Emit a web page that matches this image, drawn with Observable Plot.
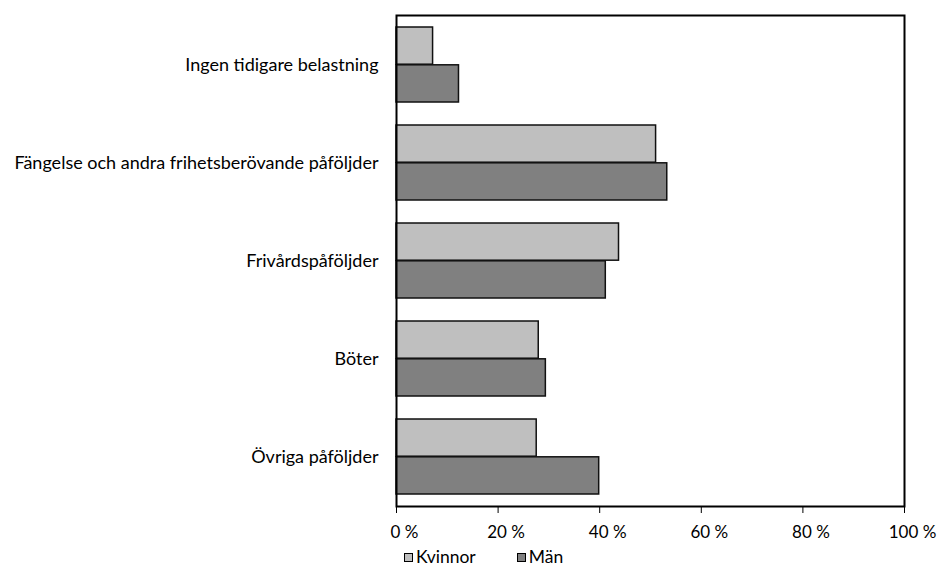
<!DOCTYPE html>
<html>
<head>
<meta charset="utf-8">
<script src="https://cdn.jsdelivr.net/npm/d3@7"></script>
<script src="https://cdn.jsdelivr.net/npm/@observablehq/plot@0.6"></script>
<style>
  body { margin: 0; background: #fff; font-family: Lato, "Noto Sans", sans-serif; overflow: hidden; }
  #chart svg { display: block; }
  #legend { display: flex; margin-left: 404px; margin-top: 5px; font-size: 17.5px; line-height: 18px; color: #000; height: 18px; align-items: center; }
  .item { display: flex; align-items: center; }
  .sw { width: 9px; height: 9px; border: 1px solid #000; margin-right: 3px; box-sizing: border-box; }
</style>
</head>
<body>
<div id="chart"></div>
<div id="legend"></div>
<script>
const categories = ["Ingen tidigare belastning", "Fängelse och andra frihetsberövande påföljder", "Frivårdspåföljder", "Böter", "Övriga påföljder"];
const series = ["Kvinnor", "Män"];
const kvinnor = [7.2, 51.1, 43.8, 28.0, 27.6];
const man = [12.3, 53.3, 41.2, 29.4, 39.9];
const xTicks = [0, 20, 40, 60, 80, 100];
const colors = ["#bfbfbf", "#808080"];

const W = 938, H = 543, mt = 15, mb = 37, ml = 396, mr = 34;
const padInner = 0.23;
const half = ((H - mt - mb) / categories.length) * (1 - padInner) / 2;

const dataK = categories.map((c, i) => ({cat: c, v: kvinnor[i]}));
const dataM = categories.map((c, i) => ({cat: c, v: man[i]}));
const fmt = d => d + " %";

const hasAxis = typeof Plot.axisX === "function";
const axisMarks = hasAxis ? [
  Plot.axisX({ticks: xTicks, tickSize: 7, text: null, stroke: "#000"}),
  Plot.axisX({ticks: xTicks, tickSize: 0, tickPadding: 19, tickFormat: fmt, dx: 8, fontSize: 17})
] : [];

const chart = Plot.plot({
  width: W, height: H,
  marginTop: mt, marginBottom: mb, marginLeft: ml, marginRight: mr,
  style: {fontFamily: "Lato, 'Noto Sans', sans-serif", fontSize: "18px", color: "#000", background: "#fff"},
  x: hasAxis ? {domain: [0, 100], label: null}
             : {domain: [0, 100], ticks: xTicks, tickFormat: fmt, tickSize: 7, tickPadding: 8, label: null},
  y: {domain: categories, paddingInner: padInner, paddingOuter: padInner / 2, tickSize: 0, tickPadding: 18, label: null},
  marks: [
    Plot.barX(dataK, {y: "cat", x: "v", fill: colors[0], stroke: "#111", strokeWidth: 1.5, insetBottom: half}),
    Plot.barX(dataM, {y: "cat", x: "v", fill: colors[1], stroke: "#111", strokeWidth: 1.5, insetTop: half}),
    ...axisMarks,
    Plot.frame({stroke: "#000", strokeWidth: 2})
  ]
});
document.getElementById("chart").appendChild(chart);

const leg = document.getElementById("legend");
series.forEach((s, i) => {
  const it = document.createElement("div");
  it.className = "item";
  it.style.marginRight = i === 0 ? "41px" : "0";
  const sw = document.createElement("div");
  sw.className = "sw";
  sw.style.background = colors[i];
  const t = document.createElement("span");
  t.textContent = s;
  it.appendChild(sw); it.appendChild(t);
  leg.appendChild(it);
});
</script>
</body>
</html>
